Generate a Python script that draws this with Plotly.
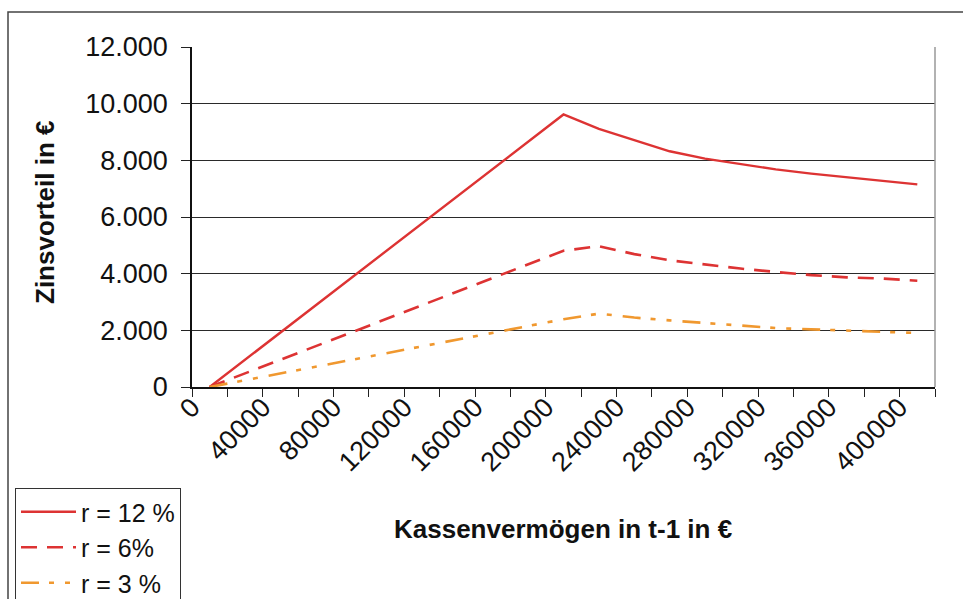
import plotly.graph_objects as go

# Data
kassen = [10000, 30000, 50000, 70000, 90000, 110000, 130000, 150000, 170000, 190000,
          210000, 230000, 250000, 270000, 290000, 310000, 330000, 350000, 370000, 390000, 410000]
r12 = [0, 960, 1920, 2880, 3840, 4800, 5760, 6720, 7680, 8640,
       9620, 9110, 8720, 8320, 8060, 7870, 7680, 7530, 7400, 7270, 7150]
r6 = [0, 480, 960, 1440, 1920, 2400, 2880, 3360, 3840, 4320,
      4810, 4970, 4690, 4470, 4320, 4180, 4060, 3950, 3870, 3830, 3750]
r3 = [0, 240, 480, 720, 960, 1200, 1440, 1680, 1920, 2160,
      2390, 2590, 2450, 2350, 2260, 2170, 2080, 2035, 1990, 1940, 1905]
series_names = ["r = 12 %", "r = 6%", "r = 3 %"]

RED = "#DD3333"
ORANGE = "#F0982F"
FONT = "Liberation Sans, Arial, sans-serif"

fig = go.Figure()
fig.add_trace(go.Scatter(x=kassen, y=r12, mode="lines", name=series_names[0],
                         line=dict(color=RED, width=2.4)))
fig.add_trace(go.Scatter(x=kassen, y=r6, mode="lines", name=series_names[1],
                         line=dict(color=RED, width=2.6, dash="16px,10px")))
fig.add_trace(go.Scatter(x=kassen, y=r3, mode="lines", name=series_names[2],
                         line=dict(color=ORANGE, width=2.6, dash="18px,10px,5px,11px,5px,11px")))

L, R, T, B = 192, 28, 47, 212
W, H = 963, 599
pw = W - L - R
ph = H - T - B

def px(x):
    return (x - L) / pw

def py(y):
    return (H - B - y) / ph

fig.update_layout(
    width=W, height=H,
    margin=dict(l=L, r=R, t=T, b=B, pad=0, autoexpand=False),
    paper_bgcolor="white", plot_bgcolor="white",
    separators=",.",
    font=dict(family=FONT, color="#111111", size=27),
    showlegend=True,
    legend=dict(x=px(15), y=py(488), xanchor="left", yanchor="top",
                bordercolor="#333333", borderwidth=1, bgcolor="white",
                font=dict(size=25, family=FONT, color="#111111"),
                tracegroupgap=0, itemwidth=55),
    xaxis=dict(range=[0, 420000], tickmode="linear", tick0=0, dtick=40000,
               tickformat="d", tickangle=-45, ticks="outside", ticklen=8,
               tickcolor="#222222", tickwidth=1, showgrid=False, zeroline=False,
               showline=True, linecolor="#111111", linewidth=1.5,
               ticklabelstandoff=-16, tickfont=dict(size=27),
               minor=dict(dtick=20000, tick0=0, ticks="outside", ticklen=8,
                          tickcolor="#222222", tickwidth=1, showgrid=False)),
    yaxis=dict(range=[0, 12000], tickmode="linear", tick0=0, dtick=2000,
               tickformat=",d", ticks="outside", ticklen=9, tickcolor="#222222",
               tickwidth=1, showgrid=True, gridcolor="#2a2a2a", gridwidth=1,
               zeroline=False, showline=True, linecolor="#111111", linewidth=1.5,
               ticklabelstandoff=8, tickfont=dict(size=27)),
    annotations=[
        dict(text="<b>Kassenvermögen in t-1 in €</b>", xref="paper", yref="paper",
             x=px(563), y=py(529), xanchor="center", yanchor="middle",
             showarrow=False, font=dict(size=26, family=FONT, color="#111111")),
        dict(text="<b>Zinsvorteil in €</b>", xref="paper", yref="paper",
             x=px(45), y=py(212), xanchor="center", yanchor="middle", textangle=-90,
             showarrow=False, font=dict(size=26, family=FONT, color="#111111")),
    ],
    shapes=[
        dict(type="line", xref="paper", yref="paper", x0=1, x1=1, y0=0, y1=1,
             line=dict(color="#999999", width=1.5)),
        dict(type="rect", xref="paper", yref="paper", x0=px(8), x1=px(975),
             y0=py(12), y1=py(615), line=dict(color="#444444", width=1.5),
             fillcolor="rgba(0,0,0,0)"),
    ],
)

fig.write_html("out.html", config={"displayModeBar": False},
               post_script="document.body.style.margin='0';document.body.style.overflow='hidden';")
